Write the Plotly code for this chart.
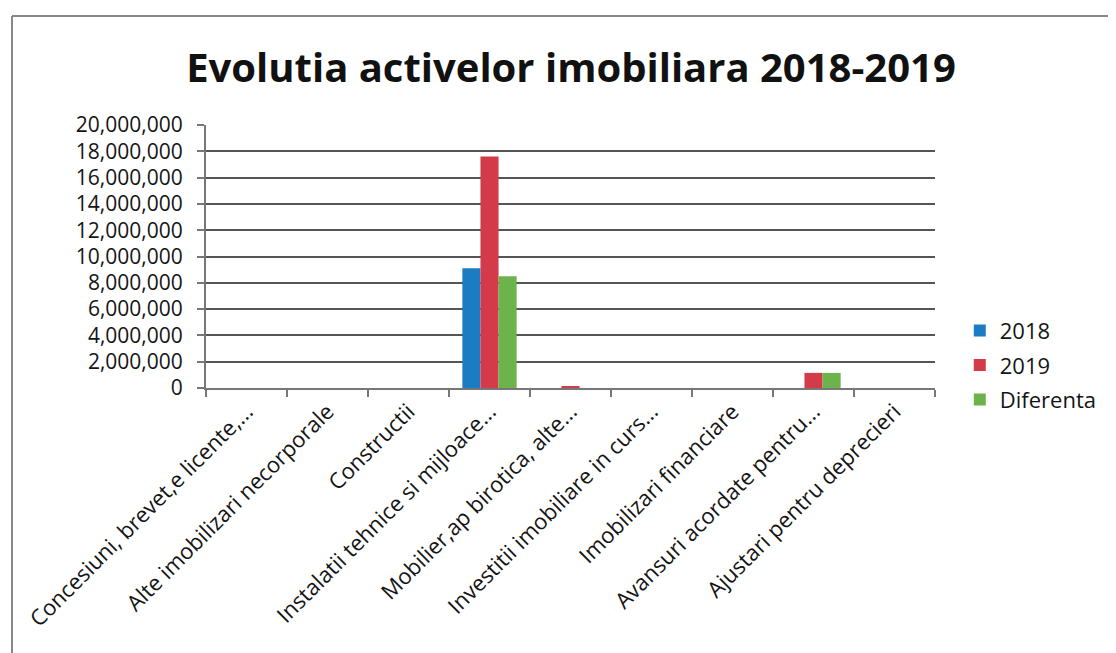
import plotly.graph_objects as go

categories = [
    "Concesiuni, brevet,e licente,...",
    "Alte imobilizari necorporale",
    "Constructii",
    "Instalatii tehnice si mijloace...",
    "Mobilier,ap birotica, alte...",
    "Investitii imobiliare in curs...",
    "Imobilizari financiare",
    "Avansuri acordate pentru...",
    "Ajustari pentru deprecieri",
]
values_2018 = [0, 0, 0, 9100000, 0, 0, 0, 0, 0]
values_2019 = [0, 0, 0, 17600000, 120000, 0, 0, 1150000, 0]
values_diff = [0, 0, 0, 8500000, 0, 0, 0, 1150000, 0]
tick_vals = [0, 2000000, 4000000, 6000000, 8000000, 10000000, 12000000, 14000000, 16000000, 18000000, 20000000]

FONT = "Open Sans"
TXT = "#141414"
# page body has an 8px margin; figure pixels = screen pixels - 8
W, H = 1108, 645
L, T = 198, 117
PW, PH = 729, 263
R = W - L - PW
B = H - T - PH

fig = go.Figure()
fig.add_bar(x=categories, y=values_2018, name="2018", marker_color="#1b7cc4", marker_line_width=0, legendgroup="a")
fig.add_bar(x=categories, y=values_2019, name="2019", marker_color="#d33b4a", marker_line_width=0, legendgroup="b")
fig.add_bar(x=categories, y=values_diff, name="Diferenta", marker_color="#6db34c", marker_line_width=0, legendgroup="c")

fig.update_layout(
    width=W, height=H,
    margin=dict(l=L, r=R, t=T, b=B),
    paper_bgcolor="white", plot_bgcolor="white",
    barmode="group", bargap=0.33, bargroupgap=0,
    title=dict(text="<b>Evolutia activelor imobiliara 2018-2019</b>", x=(571 - 8) / W, xanchor="center",
               y=1 - (68 - 8) / H, yanchor="middle", font=dict(family=FONT, size=40, color="#111")),
    font=dict(family=FONT, color=TXT),
    legend=dict(x=1.034, y=0.087, xanchor="left", yanchor="middle", font=dict(size=22, color=TXT),
                tracegroupgap=3, itemsizing="constant", bgcolor="rgba(0,0,0,0)"),
    showlegend=True,
)
fig.update_xaxes(
    tickangle=-45, tickfont=dict(size=22, color=TXT),
    showline=True, linecolor="#777", linewidth=2,
    ticks="outside", tickson="boundaries", ticklen=7, tickcolor="#777", tickwidth=2,
    showgrid=False,
)
fig.update_yaxes(
    range=[0, 20000000], tickvals=tick_vals, tickformat=",d",
    tickfont=dict(size=21, color=TXT), ticklabelstandoff=10,
    showline=True, linecolor="#777", linewidth=2,
    ticks="outside", ticklen=7, tickcolor="#777", tickwidth=2,
    showgrid=True, gridcolor="#555", gridwidth=2, zeroline=False,
)
# chart frame (screen px -> paper coords)
def px(xs):
    return (xs - 8 - L) / PW
def py(ys):
    return (T + PH - (ys - 8)) / PH
fig.add_shape(type="line", xref="paper", yref="paper", x0=px(12), x1=px(1112),
              y0=py(16), y1=py(16), line=dict(color="#888", width=2))
fig.add_shape(type="line", xref="paper", yref="paper", x0=px(12), x1=px(12),
              y0=py(16), y1=py(670), line=dict(color="#888", width=2))
fig.add_shape(type="line", xref="paper", yref="paper", x0=px(1112), x1=px(1112),
              y0=py(16), y1=py(670), line=dict(color="#bbb", width=2))

fig.write_html("out.html")
